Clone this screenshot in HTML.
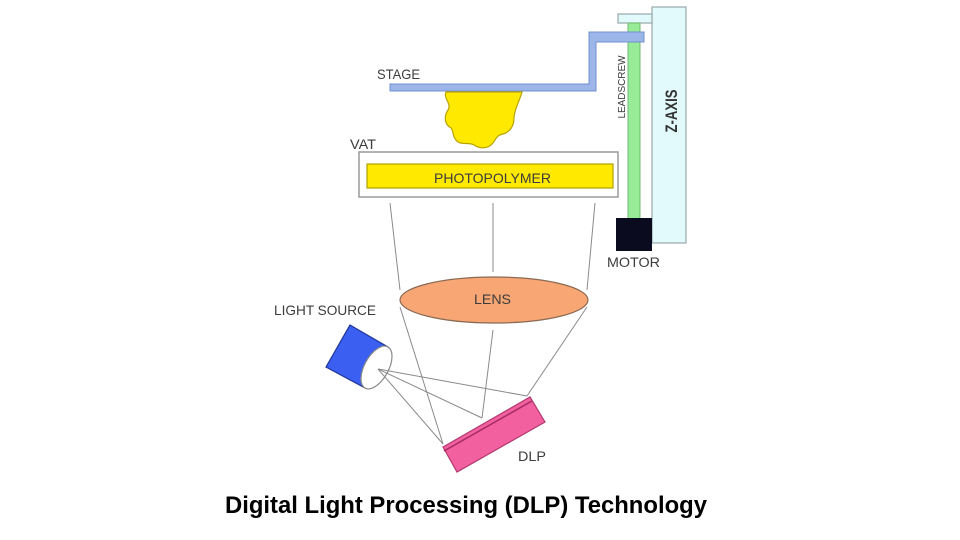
<!DOCTYPE html>
<html>
<head>
<meta charset="utf-8">
<style>
html,body{margin:0;padding:0;background:#fff;}
svg{display:block;}
text{font-family:"Liberation Sans",Arial,sans-serif;}
</style>
</head>
<body>
<svg width="960" height="540" viewBox="0 0 960 540" xmlns="http://www.w3.org/2000/svg">
  <rect x="0" y="0" width="960" height="540" fill="#fff"/>

  <!-- Z-axis column -->
  <rect x="652" y="7" width="34" height="236" fill="#e2fafc" stroke="#9aa8aa" stroke-width="1.2"/>
  <!-- top cap -->
  <rect x="618" y="14" width="34" height="9" fill="#e2fafc" stroke="#9aa8aa" stroke-width="1.2"/>
  <!-- leadscrew -->
  <rect x="628" y="23" width="12" height="196" fill="#98ec98" stroke="#6fb86f" stroke-width="1"/>
  <!-- motor -->
  <rect x="616" y="218" width="36" height="33" fill="#0b0b1f"/>

  <!-- stage bracket -->
  <polygon points="390,84 589,84 589,32 644,32 644,42 596,42 596,91 390,91" fill="#9db6ea" stroke="#7190cc" stroke-width="1"/>

  <!-- printed part blob -->
  <path d="M446,92 C443,98 452,104 448,110 C444,116 444,124 451,128 C454,131 452,138 458,142 C463,145 469,142 474,145 C480,149 488,149 493,143 C496,139 497,135 503,134 C510,132 514,126 514,118 C514,110 520,100 522,92 Z" fill="#ffe900" stroke="#b8a300" stroke-width="1.2"/>

  <!-- vat -->
  <rect x="359" y="152" width="259" height="45" fill="#fff" stroke="#9a9a9a" stroke-width="1.5"/>
  <rect x="367" y="164" width="246" height="24" fill="#ffe900" stroke="#b0a000" stroke-width="1.2"/>

  <!-- projection lines -->
  <g stroke="#8a8a8a" stroke-width="1" fill="none">
    <line x1="390" y1="203" x2="400" y2="290"/>
    <line x1="493" y1="203" x2="493" y2="272"/>
    <line x1="595" y1="203" x2="587" y2="290"/>
    <line x1="400" y1="307" x2="443" y2="444"/>
    <line x1="493" y1="330" x2="482" y2="418"/>
    <line x1="587" y1="307" x2="527" y2="396"/>
  </g>

  <!-- lens -->
  <ellipse cx="494" cy="300" rx="94" ry="23" fill="#f8a673" stroke="#8a6a55" stroke-width="1.2"/>

  <!-- light source -->
  <polygon points="350,325 388,347 365,388 326,367" fill="#3b5ff0" stroke="#1f3595" stroke-width="1.2"/>
  <ellipse cx="0" cy="0" rx="23.5" ry="12" transform="translate(376.5,367.5) rotate(-61)" fill="#fff" stroke="#8a8a8a" stroke-width="1.2"/>
  <g stroke="#8a8a8a" stroke-width="1">
    <line x1="378" y1="369" x2="443" y2="444"/>
    <line x1="378" y1="369" x2="482" y2="418"/>
    <line x1="378" y1="369" x2="527" y2="396"/>
  </g>

  <!-- DLP -->
  <polygon points="443,447 530,397 545,422 457,472" fill="#f2609f" stroke="#b2396f" stroke-width="1.2"/>
  <line x1="444" y1="451" x2="532" y2="401" stroke="#a42a62" stroke-width="1.5"/>

  <!-- labels -->
  <g fill="#3c3c3c" font-size="14">
    <text x="377" y="79" textLength="43" lengthAdjust="spacingAndGlyphs">STAGE</text>
    <text x="350" y="149" textLength="26" lengthAdjust="spacingAndGlyphs">VAT</text>
    <text x="434" y="183" textLength="117" lengthAdjust="spacingAndGlyphs">PHOTOPOLYMER</text>
    <text x="607" y="267" textLength="53" lengthAdjust="spacingAndGlyphs">MOTOR</text>
    <text x="474" y="304" textLength="37" lengthAdjust="spacingAndGlyphs">LENS</text>
    <text x="274" y="315" textLength="102" lengthAdjust="spacingAndGlyphs">LIGHT SOURCE</text>
    <text x="518" y="461" textLength="28" lengthAdjust="spacingAndGlyphs">DLP</text>
    <text x="0" y="0" font-size="10" text-anchor="middle" transform="translate(625,87) rotate(-90)" textLength="63" lengthAdjust="spacingAndGlyphs">LEADSCREW</text>
    <text x="0" y="0" font-size="17" font-weight="bold" fill="#333" text-anchor="middle" transform="translate(677,111) rotate(-90)" textLength="43" lengthAdjust="spacingAndGlyphs">Z-AXIS</text>
  </g>

  <!-- title -->
  <text x="225" y="513" font-size="24" font-weight="bold" fill="#000" textLength="482" lengthAdjust="spacingAndGlyphs">Digital Light Processing (DLP) Technology</text>
</svg>
</body>
</html>
